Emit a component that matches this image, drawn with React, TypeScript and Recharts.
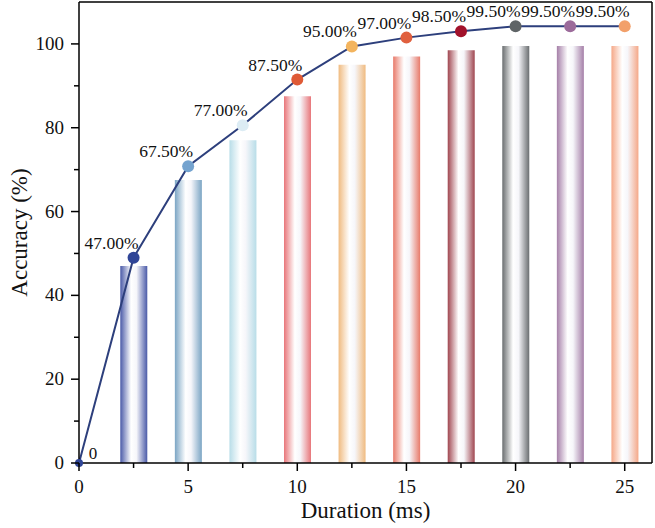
import { Bar, Cell, ComposedChart, LabelList, Label, Line, ReferenceLine, XAxis, YAxis } from "recharts";

const durations = [0, 2.5, 5, 7.5, 10, 12.5, 15, 17.5, 20, 22.5, 25];
const accuracy = [0, 47, 67.5, 77, 87.5, 95, 97, 98.5, 99.5, 99.5, 99.5];
const curve = [0, 49.0, 70.8, 80.6, 91.5, 99.4, 101.5, 103.0, 104.2, 104.2, 104.2];

const xTicks = [0, 2.5, 5, 7.5, 10, 12.5, 15, 17.5, 20, 22.5, 25];
const yTicks = [0, 10, 20, 30, 40, 50, 60, 70, 80, 90, 100];

const barColors = ["#4a5aa8", "#4a5aa8", "#7ba5c4", "#b8dde8", "#e8767a", "#f0bb80", "#e87a6a", "#a04650", "#6a6e70", "#a57fa8", "#f5a888"];
const dotColors = ["#2f4597", "#2f4597", "#74a3cf", "#dcecf4", "#df5a36", "#f3b45e", "#e0603e", "#a1122b", "#5f6466", "#9c6b9b", "#f2a06a"];

const FONT = "'Liberation Serif', 'DejaVu Serif', serif";
const X_MAX = 26.25;
const Y_MAX = 110;

const data = durations.map((d, i) => ({ duration: d, accuracy: accuracy[i], curve: curve[i] }));

const textStyle = (size: number) => ({ fontFamily: FONT, fontSize: size, fill: "#111" });

function YTick({ x, y, payload }: any) {
  const v = payload.value;
  const major = v % 20 === 0;
  return (
    <g>
      <line x1={x} x2={x - (major ? 8 : 5)} y1={y} y2={y} stroke="#000" strokeWidth={1.5} />
      {major && (
        <text x={x - 15} y={y + 6} textAnchor="end" style={textStyle(19)}>
          {v}
        </text>
      )}
    </g>
  );
}

function XTick({ x, y, payload }: any) {
  const v = payload.value;
  const major = v % 5 === 0;
  return (
    <g>
      <line x1={x} x2={x} y1={y} y2={y + (major ? 8 : 5)} stroke="#000" strokeWidth={1.5} />
      {major && (
        <text x={x} y={y + 30} textAnchor="middle" style={textStyle(19)}>
          {v}
        </text>
      )}
    </g>
  );
}

function PointLabel({ x, y, index }: any) {
  const acc = accuracy[index];
  if (acc === 0) {
    return (
      <text x={x + 14} y={y - 4} textAnchor="middle" style={textStyle(17)}>
        0
      </text>
    );
  }
  // les étiquettes sont décalées à gauche du point, la dernière reste dans le cadre
  const cx = Math.min(x - 22, 623);
  return (
    <text x={cx} y={y - 9} textAnchor="middle" style={textStyle(17.5)}>
      {acc.toFixed(2)}%
    </text>
  );
}

function Dot({ cx, cy, index }: any) {
  return <circle key={`dot-${index}`} cx={cx} cy={cy} r={index === 0 ? 4 : 6} fill={dotColors[index]} />;
}

export default function App() {
  return (
    <div style={{ position: "absolute", left: 0, top: 0, background: "#fff" }}>
      <ComposedChart width={655} height={528} data={data} margin={{ top: 2, right: 3, bottom: 0, left: 0 }}>
        <defs>
          {barColors.map((c, i) => (
            <linearGradient key={i} id={`bar-grad-${i}`} x1="0" y1="0" x2="1" y2="0">
              <stop offset="0%" stopColor={c} />
              <stop offset="40%" stopColor="#ffffff" />
              <stop offset="60%" stopColor="#f6f6fa" />
              <stop offset="100%" stopColor={c} />
            </linearGradient>
          ))}
        </defs>
        <XAxis
          dataKey="duration"
          type="number"
          domain={[0, X_MAX]}
          ticks={xTicks}
          interval={0}
          height={65}
          axisLine={{ stroke: "#000", strokeWidth: 1.5 }}
          tickLine={false}
          tickSize={0}
          tickMargin={0}
          tick={<XTick />}
        >
          <Label
            content={({ viewBox }: any) => (
              <text x={viewBox.x + viewBox.width / 2} y={viewBox.y + 55} textAnchor="middle" style={textStyle(23)}>
                Duration (ms)
              </text>
            )}
          />
        </XAxis>
        <YAxis
          type="number"
          domain={[0, Y_MAX]}
          ticks={yTicks}
          interval={0}
          width={79}
          axisLine={{ stroke: "#000", strokeWidth: 1.5 }}
          tickLine={false}
          tickSize={0}
          tickMargin={0}
          tick={<YTick />}
        >
          <Label
            content={({ viewBox }: any) => {
              const cy = viewBox.y + viewBox.height / 2;
              return (
                <text x={27} y={cy} transform={`rotate(-90, 27, ${cy})`} textAnchor="middle" style={textStyle(23)}>
                  Accuracy (%)
                </text>
              );
            }}
          />
        </YAxis>
        <ReferenceLine y={Y_MAX} stroke="#000" strokeWidth={1.5} />
        <ReferenceLine x={X_MAX} stroke="#000" strokeWidth={1.5} />
        <Bar dataKey="accuracy" barSize={27} isAnimationActive={false}>
          {data.map((_, i) => (
            <Cell key={i} fill={`url(#bar-grad-${i})`} />
          ))}
        </Bar>
        <Line
          type="linear"
          dataKey="curve"
          stroke="#2d3f7c"
          strokeWidth={2}
          dot={<Dot />}
          activeDot={false}
          isAnimationActive={false}
        >
          <LabelList dataKey="curve" content={<PointLabel />} />
        </Line>
      </ComposedChart>
    </div>
  );
}
